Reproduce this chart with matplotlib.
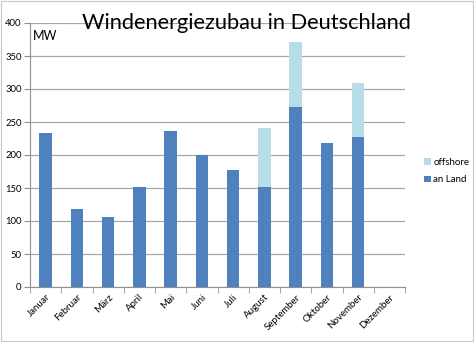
import numpy as np
import matplotlib.pyplot as plt

plt.rcParams['font.family'] = ['Lato', 'DejaVu Sans']

monate = ['Januar', 'Februar', 'März', 'April', 'Mai', 'Juni', 'Juli',
          'August', 'September', 'Oktober', 'November', 'Dezember']
an_land = [233, 118, 106, 152, 237, 200, 177, 151, 272, 218, 228, 0]
offshore = [0, 0, 0, 0, 0, 0, 0, 90, 99, 0, 81, 0]

fig = plt.figure(figsize=(4.74, 3.42), dpi=100)
ax = fig.add_axes([30 / 474, 1 - 287 / 342, 375 / 474, 264 / 342])

x = np.arange(len(monate))
ax.bar(x, an_land, width=0.4, color='#4f81bd', label='an Land', zorder=3)
ax.bar(x, offshore, width=0.4, bottom=an_land, color='#b6dde8',
       label='offshore', zorder=3)

ax.set_xlim(-0.5, len(monate) - 0.5)
ax.set_ylim(0, 400)
ax.set_yticks(range(0, 401, 50))
ax.grid(axis='y', color='#a8a8a8', linewidth=0.9, zorder=0)

ax.set_xticks(x)
ax.set_xticklabels(monate, rotation=45, ha='right', rotation_mode='anchor',
                   fontsize=7)
ax.set_xticks(np.arange(-0.5, len(monate)), minor=True)
ax.tick_params(axis='x', which='major', length=0, pad=4)
ax.tick_params(axis='x', which='minor', length=4, color='#909090')
ax.tick_params(axis='y', length=4, color='#909090', labelsize=6.8, pad=2)

for side in ['top', 'right']:
    ax.spines[side].set_visible(False)
ax.spines['left'].set_color('#909090')
ax.spines['bottom'].set_color('#909090')

fig.text(246 / 474, 1 - 23 / 342, 'Windenergiezubau in Deutschland',
         ha='center', va='center', fontsize=15.7)
fig.text(33 / 474, 1 - 36 / 342, 'MW', ha='left', va='center', fontsize=9)

handles, labels = ax.get_legend_handles_labels()
fig.legend(handles[::-1], labels[::-1], loc='center left',
           bbox_to_anchor=(415 / 474, 1 - 171 / 342), frameon=False,
           fontsize=7, handlelength=0.7, handleheight=0.7,
           handletextpad=0.3, labelspacing=0.9)

# light border around the whole chart
fig.patches.append(plt.Rectangle((0.002, 0.002), 0.996, 0.996,
                                 transform=fig.transFigure, fill=False,
                                 edgecolor='#c8c8c8', linewidth=0.8))

fig.savefig('out.png', dpi=100)
